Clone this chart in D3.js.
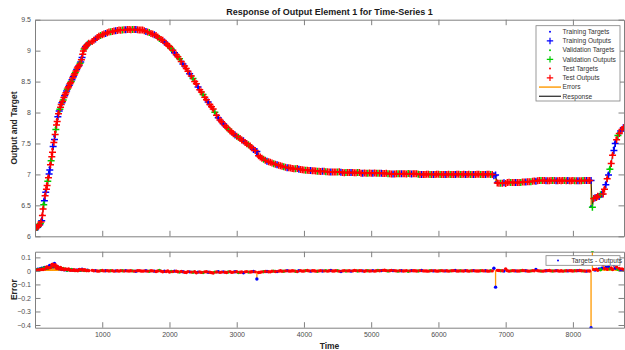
<!DOCTYPE html>
<html>
<head>
<meta charset="utf-8">
<script src="https://cdn.jsdelivr.net/npm/d3@7"></script>
<style>
  body { margin: 0; background: #fff; }
  text { font-family: "Liberation Sans", Arial, sans-serif; }
</style>
</head>
<body>
<svg id="chart" width="625" height="350"></svg>
<script>
// time steps of the sampled series
const time = [].concat(d3.range(0, 801, 10), d3.range(850, 8251, 25), d3.range(8270, 8751, 20), [8760]);

// targets
const targetsStart = [
  6.14, 6.145, 6.15, 6.155, 6.16, 6.17, 6.19, 6.20, 6.22, 6.24,
  6.27, 6.35, 6.45, 6.53, 6.60, 6.67, 6.73, 6.79, 6.85, 6.91,
  6.97, 7.04, 7.11, 7.18, 7.25, 7.33, 7.41, 7.48, 7.55, 7.62,
  7.69, 7.755, 7.82, 7.89, 7.96, 8.00, 8.04, 8.075, 8.11, 8.14,
  8.17, 8.195, 8.22, 8.25, 8.28, 8.305, 8.33, 8.355, 8.38, 8.405,
  8.43, 8.45, 8.47, 8.49, 8.51, 8.535, 8.56, 8.585, 8.61, 8.63,
  8.65, 8.675, 8.70, 8.72, 8.74, 8.76, 8.78, 8.80, 8.82, 8.86,
  8.90, 8.95, 9.00, 9.03, 9.05, 9.065, 9.08, 9.09, 9.10, 9.11,
  9.12
];
const targetsMid = [
  9.15, 9.17, 9.19, 9.21, 9.23, 9.245, 9.26, 9.27, 9.28, 9.29,
  9.30, 9.305, 9.31, 9.315, 9.32, 9.325, 9.33, 9.333, 9.335, 9.338,
  9.34, 9.34, 9.34, 9.34, 9.34, 9.34, 9.34, 9.338, 9.335, 9.333,
  9.33, 9.32, 9.31, 9.30, 9.29, 9.28, 9.27, 9.255, 9.24, 9.22,
  9.20, 9.18, 9.16, 9.135, 9.11, 9.085, 9.06, 9.03, 9.00, 8.965,
  8.93, 8.895, 8.86, 8.82, 8.78, 8.74, 8.70, 8.66, 8.62, 8.58,
  8.54, 8.495, 8.45, 8.405, 8.36, 8.32, 8.28, 8.24, 8.20, 8.16,
  8.12, 8.08, 8.04, 7.995, 7.95, 7.91, 7.87, 7.84, 7.81, 7.78,
  7.75, 7.725, 7.70, 7.675, 7.65, 7.63, 7.61, 7.59, 7.57, 7.55,
  7.53, 7.51, 7.49, 7.47, 7.45, 7.425, 7.40, 7.38, 7.31, 7.29,
  7.27, 7.255, 7.24, 7.225, 7.21, 7.20, 7.19, 7.18, 7.17, 7.16,
  7.15, 7.145, 7.14, 7.13, 7.12, 7.115, 7.11, 7.105, 7.10, 7.095,
  7.09, 7.09, 7.09, 7.085, 7.08, 7.075, 7.07, 7.07, 7.07, 7.065,
  7.06, 7.06, 7.06, 7.055, 7.05, 7.05, 7.05, 7.05, 7.05, 7.045,
  7.04, 7.04, 7.04, 7.04, 7.04, 7.04, 7.04, 7.04, 7.03, 7.03,
  7.03, 7.03, 7.03, 7.03, 7.03, 7.03, 7.03, 7.03, 7.03, 7.03,
  7.02, 7.02, 7.02, 7.02, 7.02, 7.02, 7.02, 7.02, 7.02, 7.02,
  7.02, 7.02, 7.02, 7.02, 7.02, 7.02, 7.01, 7.01, 7.01, 7.01,
  7.01, 7.01, 7.01, 7.01, 7.01, 7.01, 7.01, 7.01, 7.01, 7.01,
  7.01, 7.01, 7.01, 7.01, 7.00, 7.00, 7.00, 7.00, 7.00, 7.00,
  7.00, 7.00, 7.00, 7.00, 7.00, 7.00, 7.00, 7.00, 7.00, 7.00,
  7.00, 7.00, 7.00, 7.00, 7.00, 7.00, 7.00, 7.00, 7.00, 7.00,
  7.00, 7.00, 7.00, 7.00, 7.00, 7.00, 7.00, 7.00, 7.00, 7.00,
  7.00, 7.00, 7.00, 7.00, 7.00, 7.00, 7.00, 7.00, 7.00, 7.00,
  6.87, 6.865, 6.86, 6.86, 6.86, 6.865, 6.87, 6.87, 6.87, 6.87,
  6.87, 6.87, 6.87, 6.87, 6.87, 6.87, 6.88, 6.88, 6.88, 6.88,
  6.88, 6.88, 6.89, 6.895, 6.90, 6.90, 6.90, 6.90, 6.90, 6.90,
  6.90, 6.90, 6.90, 6.90, 6.90, 6.90, 6.90, 6.90, 6.90, 6.90,
  6.90, 6.90, 6.90, 6.90, 6.90, 6.90, 6.90, 6.90, 6.90, 6.90,
  6.90, 6.90, 6.90, 6.90, 6.90, 6.90, 6.90
];
const targetsEnd = [
  6.48, 6.62, 6.62, 6.63, 6.64, 6.65, 6.66, 6.68, 6.70, 6.73,
  6.78, 6.86, 6.94, 7.02, 7.10, 7.20, 7.32, 7.43, 7.52, 7.59,
  7.64, 7.68, 7.71, 7.74, 7.76, 7.77
];

// errors = targets - outputs
const errorsStart = [
  0.002, 0.004, 0.005, 0.008, 0.012, 0.006, 0.008, 0.014, 0.015, 0.010,
  0.020, 0.012, 0.010, 0.022, 0.025, 0.015, 0.018, 0.028, 0.030, 0.020,
  0.022, 0.035, 0.040, 0.025, 0.028, 0.045, 0.050, 0.030, 0.035, 0.055,
  0.045, 0.030, 0.020, 0.035, 0.030, 0.018, 0.015, 0.022, 0.025, 0.012,
  0.010, 0.016, 0.018, 0.009, 0.008, 0.014, 0.012, 0.006, 0.005, 0.010,
  0.015, 0.008, 0.006, 0.004, 0.010, 0.007, 0.004, 0.006, 0.008, 0.003,
  0.003, 0.005, 0.006, 0.002, 0.002, 0.008, 0.010, 0.004, 0.004, 0.009,
  0.012, 0.007, 0.006, 0.003, 0.008, 0.004, 0.003, 0.002, 0.005, 0.003,
  0.002
];
const errorsMid = [
  0.004, 0.001, 0.002, -0.001, -0.002, 0.002, 0.003, 0.000, 0.001, 0.002,
  -0.001, 0.001, 0.002, -0.002, 0.000, 0.001, -0.002, 0.002, 0.001, -0.001,
  0.002, 0.000, -0.001, 0.001, 0.000, -0.002, -0.003, 0.001, 0.002, -0.001,
  -0.002, 0.000, 0.001, -0.002, -0.003, 0.001, 0.000, -0.002, -0.004, -0.001,
  0.003, -0.002, -0.006, -0.003, -0.004, -0.001, -0.008, -0.004, -0.005, -0.002,
  -0.003, -0.006, -0.009, -0.004, -0.006, -0.010, -0.012, -0.005, -0.007, -0.009,
  -0.010, -0.006, -0.014, -0.009, -0.008, -0.011, -0.012, -0.007, -0.006, -0.010,
  -0.010, -0.013, -0.015, -0.009, -0.008, -0.006, -0.011, -0.009, -0.007, -0.010,
  -0.012, -0.008, -0.005, -0.011, -0.009, -0.006, -0.006, -0.012, -0.010, -0.008,
  -0.014, -0.007, -0.005, -0.009, -0.008, -0.006, -0.004, -0.007, -0.060, -0.012,
  -0.010, -0.007, -0.006, -0.004, -0.004, -0.006, -0.007, -0.003, -0.002, -0.004,
  -0.005, -0.002, 0.001, -0.003, -0.003, 0.000, 0.002, -0.001, -0.002, 0.001,
  0.000, -0.003, -0.004, 0.001, 0.002, -0.002, -0.001, 0.002, 0.003, 0.000,
  -0.002, 0.001, 0.001, -0.002, -0.003, 0.000, 0.002, -0.001, 0.000, 0.002,
  -0.002, 0.001, 0.003, -0.001, -0.001, 0.002, 0.001, -0.002, -0.004, 0.000,
  0.002, -0.001, 0.000, 0.001, -0.002, 0.000, 0.004, 0.002, -0.001, 0.001,
  0.002, 0.000, -0.003, 0.001, 0.001, -0.001, 0.000, 0.002, -0.002, 0.001,
  0.003, 0.001, 0.002, 0.004, 0.005, 0.002, -0.001, 0.001, 0.004, 0.002,
  0.002, 0.000, -0.002, 0.001, 0.001, -0.001, 0.000, 0.002, -0.003, 0.000,
  0.002, 0.001, 0.001, -0.001, -0.001, 0.002, 0.003, 0.000, 0.000, -0.001,
  -0.002, 0.001, 0.002, 0.000, 0.001, -0.002, -0.001, 0.001, 0.002, 0.000,
  0.000, 0.001, -0.002, 0.000, 0.001, 0.002, 0.003, -0.001, -0.001, 0.001,
  0.000, -0.001, 0.002, 0.001, -0.002, 0.000, 0.001, 0.002, 0.000, -0.001,
  -0.001, 0.001, 0.002, 0.000, 0.001, -0.001, -0.002, 0.001, 0.000, 0.020,
  -0.120, 0.004, 0.003, 0.001, 0.001, -0.001, 0.015, 0.002, -0.002, 0.000,
  0.002, 0.001, 0.000, -0.001, -0.001, 0.001, 0.003, 0.002, 0.001, -0.001,
  -0.002, 0.000, 0.002, 0.001, 0.010, 0.002, 0.000, -0.001, -0.002, 0.000,
  0.001, 0.002, 0.003, 0.000, -0.001, 0.000, 0.002, 0.001, -0.002, 0.001,
  -0.002, 0.000, 0.001, 0.000, 0.002, 0.001, -0.001, 0.001, 0.001, 0.002,
  0.003, 0.001, 0.000, -0.001, -0.002, 0.000, -0.001
];
const errorsEnd = [
  -0.420, 0.150, 0.010, 0.006, 0.012, 0.004, 0.015, 0.008, 0.020, 0.045,
  0.018, 0.025, 0.012, 0.030, 0.015, 0.022, 0.010, 0.045, 0.020, 0.028,
  0.012, 0.018, 0.008, 0.015, 0.006, 0.010
];

// which set each sample belongs to: b = training, g = validation, r = test
const setsStart = [
  'rbrgbrrbgr', 'brrgbrbrrg', 'rbbrgrrbrb', 'rgrrbrbgrr', 'brgrbrrbgr',
  'rbrrgbrbrr', 'grbrrbrgbr', 'brrgrbrrbg', 'r'
];
const setsMid = [
  'rrbrrgrrbr', 'rgrrbrrrgr', 'brrrgrbrrr', 'rrbrgrrbrr', 'grrbrrrgrb',
  'rrgrbrrrbr', 'grrbrrgrrb', 'rrrgrbrrbr', 'rgrrrbrgrr', 'brrgrrbrbr',
  'rrgrbrrrgr', 'brrrgrbrrr', 'rgrbrrrgrr', 'brrrgrrbrg', 'rrbrrrgrbr',
  'rgrrbrrrgr', 'rbrrgrrbrr', 'grbrrrgrrb', 'rrgrbrrrgr', 'brrrgrbrrr',
  'rgrbrrrgrr', 'brrgrrbrrg', 'rrbrrgrbrr', 'rgrrbrrgrb', 'brrgrbrrrg',
  'rrbrrgrrbr', 'rgrrbrrgrr', 'brrrgrbrrr', 'rgrbrrrgrb', 'rrgrbrr'
];
const setsEnd = ['bgrbrrbgbr', 'rbrbgrrbbr', 'grbrbr'];

const targets = targetsStart.concat(targetsMid, targetsEnd);
const errors = errorsStart.concat(errorsMid, errorsEnd);
const sets = setsStart.concat(setsMid, setsEnd).join('');

const setKeys = ['b', 'g', 'r'];
const setNames = ['Training', 'Validation', 'Test'];
const setColors = ['#0000ff', '#00cc00', '#ff0000'];
const errorColor = '#ff9900';
const responseColor = '#000000';

const xTicks = [1000, 2000, 3000, 4000, 5000, 6000, 7000, 8000];
const yTicks = [6, 6.5, 7, 7.5, 8, 8.5, 9, 9.5];
const eTicks = [-0.4, -0.3, -0.2, -0.1, 0, 0.1];

if (targets.length !== time.length || errors.length !== time.length || sets.length !== time.length) {
  console.error('length mismatch', time.length, targets.length, errors.length, sets.length);
}
const rows = time.map((t, i) => ({
  t: t,
  target: targets[i],
  output: targets[i] - errors[i],
  error: errors[i],
  set: sets[i]
}));

const svg = d3.select('#chart');
const left = 35, right = 624;
const topBox = {y0: 19.7, y1: 236.3};
const errBox = {y0: 251.7, y1: 327.7};
const tickLen = 5.5;
const axisColor = '#808080';
const labelColor = '#4d4d4d';

const x = d3.scaleLinear().domain([0, 8760]).range([left, right]);
const y = d3.scaleLinear().domain([6, 9.5]).range([topBox.y1, topBox.y0]);
const ye = d3.scaleLinear().domain([-0.42, 0.142]).range([errBox.y1, errBox.y0]);

const defs = svg.append('defs');
defs.append('clipPath').attr('id', 'clipTop').append('rect')
    .attr('x', left).attr('y', topBox.y0).attr('width', right - left).attr('height', topBox.y1 - topBox.y0);
defs.append('clipPath').attr('id', 'clipErr').append('rect')
    .attr('x', left).attr('y', errBox.y0 - 0.5).attr('width', right - left).attr('height', errBox.y1 - errBox.y0 + 1);

const plus = 'M-3.5,0H3.5M0,-3.5V3.5';
const legendPlus = 'M-3.2,0H3.2M0,-3.2V3.2';

// ---------- top panel ----------
const gTop = svg.append('g').attr('clip-path', 'url(#clipTop)');

gTop.append('g').selectAll('line')
    .data(rows)
    .enter().append('line')
    .attr('x1', d => x(d.t)).attr('x2', d => x(d.t))
    .attr('y1', d => y(d.target)).attr('y2', d => y(d.output))
    .attr('stroke', errorColor).attr('stroke-width', 1.2);

gTop.append('path')
    .datum(rows)
    .attr('d', d3.line().x(d => x(d.t)).y(d => y(d.output)))
    .attr('fill', 'none')
    .attr('stroke', responseColor)
    .attr('stroke-width', 0.8);

setKeys.forEach((k, si) => {
  const sub = rows.filter(d => d.set === k);
  gTop.append('g').selectAll('circle')
      .data(sub)
      .enter().append('circle')
      .attr('cx', d => x(d.t)).attr('cy', d => y(d.target))
      .attr('r', 1.3)
      .attr('fill', setColors[si]);
  gTop.append('g').selectAll('path')
      .data(sub)
      .enter().append('path')
      .attr('transform', d => `translate(${x(d.t)},${y(d.output)})`)
      .attr('d', plus)
      .attr('stroke', setColors[si])
      .attr('stroke-width', 1.5);
});

// ---------- error panel ----------
const gErr = svg.append('g').attr('clip-path', 'url(#clipErr)');

gErr.append('g').selectAll('line')
    .data(rows)
    .enter().append('line')
    .attr('x1', d => x(d.t)).attr('x2', d => x(d.t))
    .attr('y1', ye(0)).attr('y2', d => ye(d.error))
    .attr('stroke', errorColor).attr('stroke-width', 1.3);

setKeys.forEach((k, si) => {
  gErr.append('g').selectAll('circle')
      .data(rows.filter(d => d.set === k))
      .enter().append('circle')
      .attr('cx', d => x(d.t)).attr('cy', d => ye(d.error))
      .attr('r', 1.7)
      .attr('fill', setColors[si]);
});

// ---------- axes ----------
function styleAxis(g) {
  g.selectAll('path.domain').attr('stroke', axisColor);
  g.selectAll('.tick line').attr('stroke', axisColor);
  g.selectAll('.tick text').attr('fill', labelColor).style('font-size', '7px');
}

function frame(ys, box, ticks, withLabels) {
  svg.append('g').attr('transform', `translate(0,${box.y1})`)
      .call(d3.axisBottom(x).tickValues(xTicks).tickSize(-tickLen).tickSizeOuter(0).tickPadding(4)
          .tickFormat(withLabels ? d3.format('') : ''))
      .call(styleAxis);
  svg.append('g').attr('transform', `translate(0,${box.y0})`)
      .call(d3.axisTop(x).tickValues(xTicks).tickSize(-tickLen).tickSizeOuter(0).tickFormat(''))
      .call(styleAxis);
  svg.append('g').attr('transform', `translate(${left},0)`)
      .call(d3.axisLeft(ys).tickValues(ticks).tickSize(-tickLen).tickSizeOuter(0).tickPadding(4)
          .tickFormat(d3.format('')))
      .call(styleAxis);
  svg.append('g').attr('transform', `translate(${right},0)`)
      .call(d3.axisRight(ys).tickValues(ticks).tickSize(-tickLen).tickSizeOuter(0).tickFormat(''))
      .call(styleAxis);
}
frame(y, topBox, yTicks, false);
frame(ye, errBox, eTicks, true);
svg.selectAll('.tick text').attr('font-family', null);

// ---------- titles ----------
svg.append('text')
    .attr('x', (left + right) / 2).attr('y', 15)
    .attr('text-anchor', 'middle')
    .style('font-size', '9px').style('font-weight', 'bold').attr('fill', '#1a1a1a')
    .text('Response of Output Element 1 for Time-Series 1');

svg.append('text')
    .attr('transform', `translate(17,${(topBox.y0 + topBox.y1) / 2}) rotate(-90)`)
    .attr('text-anchor', 'middle')
    .style('font-size', '8.5px').style('font-weight', 'bold').attr('fill', '#262626')
    .text('Output and Target');

svg.append('text')
    .attr('transform', `translate(17,${(errBox.y0 + errBox.y1) / 2}) rotate(-90)`)
    .attr('text-anchor', 'middle')
    .style('font-size', '8.5px').style('font-weight', 'bold').attr('fill', '#262626')
    .text('Error');

svg.append('text')
    .attr('x', (left + right) / 2).attr('y', 349)
    .attr('text-anchor', 'middle')
    .style('font-size', '8.5px').style('font-weight', 'bold').attr('fill', '#262626')
    .text('Time');

// ---------- legends ----------
const legendItems = [];
setNames.forEach((n, i) => {
  legendItems.push({label: n + ' Targets', type: 'dot', color: setColors[i]});
  legendItems.push({label: n + ' Outputs', type: 'plus', color: setColors[i]});
});
legendItems.push({label: 'Errors', type: 'line', color: errorColor});
legendItems.push({label: 'Response', type: 'line', color: '#404040'});

const lg = svg.append('g');
lg.append('rect')
    .attr('x', 536).attr('y', 25.7).attr('width', 84).attr('height', 75.3)
    .attr('fill', '#fff').attr('stroke', axisColor).attr('stroke-width', 0.8);

const item = lg.selectAll('g.item')
    .data(legendItems)
    .enter().append('g')
    .attr('transform', (d, i) => `translate(0,${31.7 + i * 9.23})`);

item.filter(d => d.type === 'dot').append('circle')
    .attr('cx', 550).attr('cy', 0).attr('r', 1).attr('fill', d => d.color);
item.filter(d => d.type === 'plus').append('path')
    .attr('transform', 'translate(550,0)')
    .attr('d', legendPlus).attr('stroke', d => d.color).attr('stroke-width', 1.2);
item.filter(d => d.type === 'line').append('line')
    .attr('x1', 539).attr('x2', 561).attr('y1', 0).attr('y2', 0)
    .attr('stroke', d => d.color).attr('stroke-width', 1.4);
item.append('text')
    .attr('x', 562.5).attr('y', 0).attr('dy', '0.35em')
    .style('font-size', '6.6px').attr('fill', '#333')
    .text(d => d.label);

const lg2 = svg.append('g');
lg2.append('rect')
    .attr('x', 546).attr('y', 255.7).attr('width', 74).attr('height', 9.6)
    .attr('fill', '#fff').attr('stroke', axisColor).attr('stroke-width', 0.8);
lg2.append('circle')
    .attr('cx', 558).attr('cy', 260.5).attr('r', 1).attr('fill', setColors[0]);
lg2.append('text')
    .attr('x', 571.5).attr('y', 260.5).attr('dy', '0.35em')
    .style('font-size', '6.6px').attr('fill', '#333')
    .text('Targets - Outputs');
</script>
</body>
</html>
